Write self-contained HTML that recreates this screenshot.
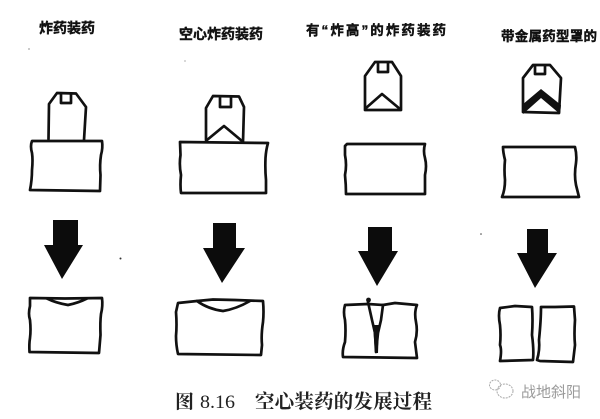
<!DOCTYPE html>
<html>
<head>
<meta charset="utf-8">
<style>
html,body{margin:0;padding:0;background:#fff;width:600px;height:419px;overflow:hidden}
svg{display:block}
.l{fill:none;stroke:#111;stroke-width:2.7;stroke-linejoin:round;stroke-linecap:round}
.t{font-family:"Liberation Sans","Noto Sans CJK SC",sans-serif;font-weight:700;fill:#111;stroke:#111;stroke-width:.4}
.c{font-family:"Liberation Serif","Noto Serif CJK SC",serif;font-weight:700;fill:#222}
</style>
</head>
<body>
<svg width="600" height="419" viewBox="0 0 600 419" xmlns="http://www.w3.org/2000/svg">
<rect width="600" height="419" fill="#fff"/>

<!-- Titles -->
<text class="t" x="39" y="33" font-size="14" textLength="56" lengthAdjust="spacing">炸药装药</text>
<text class="t" x="179" y="39" font-size="14" textLength="84" lengthAdjust="spacing">空心炸药装药</text>
<text class="t" x="306" y="35" font-size="13.5" textLength="140" lengthAdjust="spacing">有“炸高”的炸药装药</text>
<text class="t" x="501" y="41" font-size="13.5" textLength="96" lengthAdjust="spacing">带金属药型罩的</text>

<!-- Column 1 -->
<path class="l" d="M48.5 139 L49 104 L57 93 L76 93.5 L86 107 L84 140"/>
<path class="l" d="M61 94 V103 H71 V94" stroke-width="2.2"/>
<path class="l" d="M32 141 L102 141 Q103 148 101 155 Q99.5 165 100.5 175 L100 191 L30 190 Q32 180 32 170 Q33 160 32 153 Q30 146 32 141 Z"/>
<path d="M53 220 L78 220 L78 245 L83 245 L62 279 L44 245 L53 245 Z" fill="#0c0c0c"/>
<path class="l" d="M30 298 L65 298.5 L102 298 Q103 306 101 314 Q100 322 100.5 335 L99 353 L29.5 352 Q29 344 30 338 Q31 330 30 320 Q28 314 30 306 Z"/>
<path class="l" d="M47 298.5 Q56 303 68 305 Q78 303 87 298.5" stroke-width="2.2"/>

<!-- Column 2 -->
<path class="l" d="M206 140 L206 108 L213 96 L239 96.5 L244 107 L243 142" stroke-width="3"/>
<path class="l" d="M220 97 V107 H231 V97" stroke-width="2.2"/>
<path class="l" d="M207 140 L224 126 L242 141"/>
<path class="l" d="M180 142 L268 143 Q266 150 265.5 158 Q265 170 266 180 L266 193 L181 193 Q180 185 181 175 Q179 165 180.5 155 Z"/>
<path d="M213 223 L236 223 L236 248 L245 248 L222 283 L203 248 L213 248 Z" fill="#0c0c0c"/>
<path class="l" d="M178 303 L197 301 L213 299.5 L235 300 L263 301 Q264 312 263 322 Q261 335 262 345 L261 355 L178 354 Q176 345 176 336 Q177 325 176 312 Z"/>
<path class="l" d="M197 301 Q208 309 223 311 Q236 309 250 301" stroke-width="2.2"/>

<!-- Column 3 -->
<path class="l" d="M365 109 L365 76 L375 62 L392 62 L401 76 L401 110 L365 110 Z"/>
<path class="l" d="M378 63 V72 H388 V63" stroke-width="2.2"/>
<path class="l" d="M366 108 L382 94 L400 109"/>
<path class="l" d="M345 146 L347 144 L425 144 Q423 151 425 158 Q427 166 425 175 L425 194 L346 194 Q346 185 345 175 Q347 165 345 155 Z"/>
<path d="M368 227 L392 227 L392 251 L398 251 L377 286 L358 251 L368 251 Z" fill="#0c0c0c"/>
<path class="l" d="M345 305 L368 304 L383 305 L395 303 L417 305 Q414 312 416 322 Q418 332 415 342 L417 358 L343 357 Q342 350 345 342 Q346 330 345 320 Q343 312 345 305 Z"/>
<path class="l" d="M368 302 L372 320 L375 333 L376 352 L378 333 L381 320 L383 305"/>
<path d="M373 325 L379 325 L378 353 L375 353 Z" fill="#111"/>
<circle cx="368.5" cy="300" r="2.4" fill="#111"/>

<!-- Column 4 -->
<path class="l" d="M523 112 L523 78 L533 65 L550 65 L561 78 L559 113 L523 112 Z" stroke-width="3"/>
<path class="l" d="M535 66 V74 H545 V66" stroke-width="2.2"/>
<path d="M522 105 L541 89 L561 105 L560 114 L541 98 L523 114 Z" fill="#111"/>
<path class="l" d="M503 147 L575 147 Q577 155 576 163 Q574 175 576 185 L579 197 L502 197 Q505 190 505 180 Q504 170 505 160 Q503 152 503 147 Z"/>
<path d="M527 229 L548 229 L548 253 L557 253 L535 288 L517 253 L527 253 Z" fill="#0c0c0c"/>
<path class="l" d="M500 308 L515 306 L532 307 Q533 320 532 335 Q534 350 533 360 L500 361 Q502 350 500 345 Q501 335 500 325 Q498 315 500 308 Z"/>
<path class="l" d="M541 307 L555 307 L574 306.5 L575 320 Q574 335 575 345 L573 362 L540 361 L537 360 Q540 350 539 340 Q541 320 541 307 Z"/>

<!-- Caption -->
<text class="c" x="175" y="408" font-size="19">图</text>
<text class="c" x="200" y="408" font-size="19" textLength="35" lengthAdjust="spacingAndGlyphs" style="font-weight:400">8.16</text>
<text class="c" x="255" y="408" font-size="19.5" textLength="177" lengthAdjust="spacing">空心装药的发展过程</text>

<!-- Watermark -->
<g fill="none" stroke="#aaa" stroke-width="1" stroke-dasharray="2 1">
<ellipse cx="495" cy="385" rx="5.5" ry="5"/>
<ellipse cx="505" cy="391" rx="8" ry="7"/>
</g>
<text x="521" y="397" font-size="15" fill="#9a9a9a" font-family="'Liberation Sans','Noto Sans CJK SC',sans-serif" textLength="60" lengthAdjust="spacing">战地斜阳</text>

<!-- Specks -->
<circle cx="120.5" cy="258.5" r="1" fill="#333"/>
<circle cx="29" cy="49" r="1" fill="#bbb"/>
<circle cx="185" cy="61" r="1" fill="#ccc"/>
<circle cx="481" cy="234" r="0.8" fill="#444"/>
</svg>
</body>
</html>
